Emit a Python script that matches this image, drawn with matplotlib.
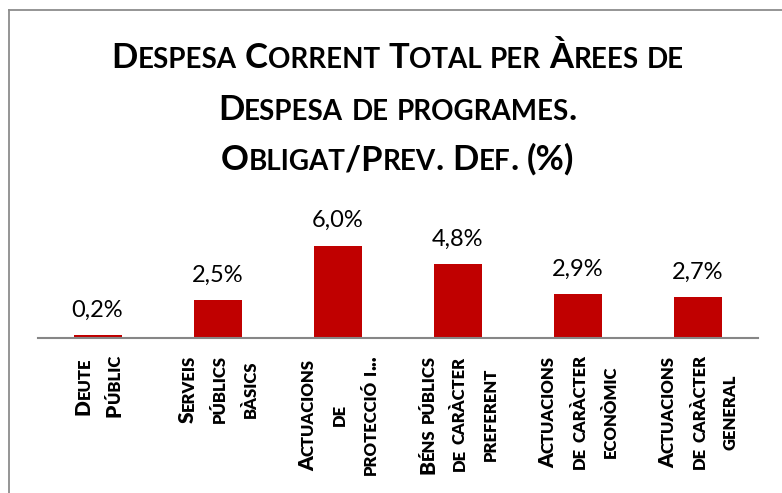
import numpy as np
import matplotlib
matplotlib.use("Agg")
import matplotlib.pyplot as plt
from matplotlib.font_manager import FontProperties, findfont, get_font
from matplotlib.lines import Line2D

# dades
titol = ["Despesa Corrent Total per Àrees de",
         "Despesa de programes.",
         "Obligat/Prev. Def. (%)"]
arees = ["Deute\nPúblic",
         "Serveis\npúblics\nbàsics",
         "Actuacions\nde\nprotecció i...",
         "Béns públics\nde caràcter\npreferent",
         "Actuacions\nde caràcter\neconòmic",
         "Actuacions\nde caràcter\ngeneral"]
valors = [0.18, 2.47, 6.0, 4.81, 2.86, 2.66]

W, H, DPI = 782, 493, 100
FONT = "Lato"
SC = 0.8          # mida relativa de les versaletes
VERMELL = "#C00000"
GRIS = "#868686"


def avanc(s, size, weight):
    font = get_font(findfont(FontProperties(family=FONT, weight=weight)))
    font.set_size(size, DPI)
    return sum(font.load_char(ord(c)).linearHoriAdvance / 65536 for c in s)


def trossos(text, size):
    # minuscules -> versaletes (majuscules mes petites)
    out = []
    for c in text:
        sz = size * SC if c.islower() else size
        if out and out[-1][1] == sz and c != " " and out[-1][0][-1] != " ":
            out[-1][0] += c
        else:
            out.append([c, sz])
    return [(s.upper(), sz) for s, sz in out]


def amplada(text, size, weight):
    return sum(avanc(s, sz, weight) for s, sz in trossos(text, size))


def versaletes(x, y, text, size, weight, rot=0):
    # x, y: inici de la linia base en pixels (origen a baix a l'esquerra)
    dx, dy = np.cos(np.deg2rad(rot)), np.sin(np.deg2rad(rot))
    pen = 0.0
    for s, sz in trossos(text, size):
        if s.strip():
            fig.text((x + pen * dx) / W, (y + pen * dy) / H, s, fontsize=sz,
                     fontweight=weight, family=FONT, rotation=rot,
                     rotation_mode="anchor", ha="left", va="baseline", color="black")
        pen += avanc(s, sz, weight)


fig = plt.figure(figsize=(W / DPI, H / DPI), dpi=DPI)

escala = 15.38  # px per unitat
base = 338.0
ax = fig.add_axes([37.5 / W, (H - base) / H, 720 / W, 7 * escala / H])
x = np.arange(len(valors))
ax.bar(x, valors, width=0.4, color=VERMELL)
ax.set_xlim(-0.5, len(valors) - 0.5)
ax.set_ylim(0, 7)
for s in ["top", "left", "right"]:
    ax.spines[s].set_visible(False)
ax.spines["bottom"].set_color(GRIS)
ax.spines["bottom"].set_linewidth(1.5)
ax.set_xticks([])
ax.set_yticks([])
ax.patch.set_alpha(0)

for i, v in enumerate(valors):
    ax.annotate(f"{v:.1f}".replace(".", ",") + "%", (i, v), xytext=(0, 13.3),
                textcoords="offset points", ha="center", va="baseline",
                fontsize=17, family=FONT, color="black")

# titol
ts = 20 * 573 / amplada(titol[0], 20, "bold")
for linia, yb in zip(titol, [68.5, 119.5, 170]):
    w = amplada(linia, ts, "bold")
    versaletes(397.5 - w / 2, H - yb, linia, ts, "bold")

# etiquetes de l'eix x (girades)
PES = "heavy"
ls = 12 * 119 / amplada("Béns públics", 12, PES)
f = get_font(findfont(FontProperties(family=FONT, weight=PES)))
f.set_size(ls, DPI)
cap = f.load_char(ord("H")).bbox[3] / 64
TOP = 355
for i, txt in enumerate(arees):
    cx = ax.transData.transform((i, 0))[0]
    linies = txt.split("\n")
    llargs = [amplada(l, ls, PES) for l in linies]
    centre = TOP + max(llargs) / 2
    n = len(linies)
    for k, (l, L) in enumerate(zip(linies, llargs)):
        xc = cx + (k - (n - 1) / 2) * 31
        versaletes(xc + cap / 2, H - (centre + L / 2), l, ls, PES, rot=90)

# marc
fig.add_artist(Line2D([9 / W, 9 / W], [0, 1 - 10 / H], transform=fig.transFigure,
                      color="#8c8c8c", lw=1.3))
fig.add_artist(Line2D([9 / W, 1], [1 - 10 / H, 1 - 10 / H], transform=fig.transFigure,
                      color="#8c8c8c", lw=1.3))

fig.savefig("out.png", dpi=DPI)
